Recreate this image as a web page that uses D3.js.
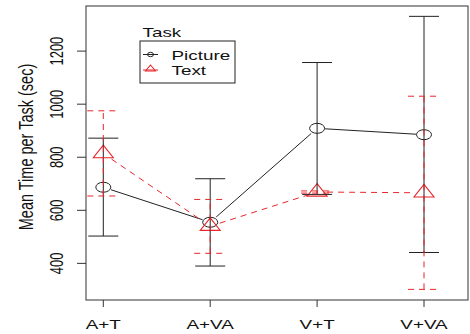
<!DOCTYPE html>
<html>
<head>
<meta charset="utf-8">
<script src="https://cdn.jsdelivr.net/npm/d3@7"></script>
<style>
  body { margin: 0; background: #fff; }
  svg text { font-family: "Liberation Sans", Arial, sans-serif; fill: #111; }
</style>
</head>
<body>
<svg id="chart" width="470" height="334"></svg>
<script>
// values
var tasks = ["A+T", "A+VA", "V+T", "V+VA"];
var pictureMean = [687, 555, 909, 885];
var pictureLow = [503, 390, 660, 441];
var pictureHigh = [872, 719, 1157, 1331];
var textMean = [814, 540, 669, 666];
var textLow = [654, 438, 665, 302];
var textHigh = [975, 641, 673, 1030];
var yTicks = [400, 600, 800, 1000, 1200];
var legendTitle = "Task";
var seriesNames = ["Picture", "Text"];

var RED = "#e8262b";
var SX = 1.45;  // the reference is stretched sideways, so is the text

var svg = d3.select("#chart");
var box = {left: 86, right: 468, top: 6, bottom: 300};

var x = d3.scalePoint().domain(tasks).range([103.3, 424]);
var y = d3.scaleLinear().domain([262, 1370]).range([box.bottom, box.top]);

function label(txt, px, py, size, anchor, rotated) {
    return svg.append("text")
        .attr("transform", "translate(" + px + "," + py + ") scale(" + SX + ",1)" + (rotated ? " rotate(-90)" : ""))
        .attr("text-anchor", anchor)
        .style("font-size", size + "px")
        .text(txt);
}

// plot box
svg.append("rect")
   .attr("x", box.left).attr("y", box.top)
   .attr("width", box.right - box.left).attr("height", box.bottom - box.top)
   .attr("fill", "none").attr("stroke", "#444").attr("stroke-width", 1.1);

// y axis ticks and labels
yTicks.forEach(function (t) {
    svg.append("line")
       .attr("x1", box.left - 9).attr("x2", box.left)
       .attr("y1", y(t)).attr("y2", y(t))
       .attr("stroke", "#333");
    label(t, 62.5, y(t), 13, "middle", true);
});
label("Mean Time per Task (sec)", 33, 147, 14.5, "middle", true);

// x axis ticks and labels
tasks.forEach(function (t) {
    svg.append("line")
       .attr("x1", x(t)).attr("x2", x(t))
       .attr("y1", box.bottom).attr("y2", box.bottom + 7)
       .attr("stroke", "#333");
    label(t, x(t), 329, 13, "middle", false);
});

// line between points, with a gap round each point (type "b")
function gappedLines(means, gap, style) {
    for (var i = 0; i < means.length - 1; i++) {
        var x0 = x(tasks[i]), y0 = y(means[i]);
        var x1 = x(tasks[i + 1]), y1 = y(means[i + 1]);
        var len = Math.hypot(x1 - x0, y1 - y0);
        var ux = (x1 - x0) / len, uy = (y1 - y0) / len;
        var l = svg.append("line")
            .attr("x1", x0 + ux * gap).attr("y1", y0 + uy * gap)
            .attr("x2", x1 - ux * gap).attr("y2", y1 - uy * gap)
            .attr("stroke", style.color).attr("stroke-width", 1);
        if (style.dash) l.attr("stroke-dasharray", style.dash);
    }
}

function errorBars(means, low, high, style) {
    tasks.forEach(function (t, i) {
        var cx = x(t);
        var g = svg.append("g")
            .attr("stroke", style.color).attr("stroke-width", 1).attr("fill", "none");
        if (style.dash) g.attr("stroke-dasharray", style.dash);
        g.append("line").attr("x1", cx).attr("x2", cx).attr("y1", y(low[i])).attr("y2", y(high[i]));
        g.append("line").attr("x1", cx - style.cap).attr("x2", cx + style.cap).attr("y1", y(low[i])).attr("y2", y(low[i]));
        g.append("line").attr("x1", cx - style.cap).attr("x2", cx + style.cap).attr("y1", y(high[i])).attr("y2", y(high[i]));
    });
}

function circleMark(cx, cy, rx, ry, color) {
    svg.append("ellipse")
       .attr("cx", cx).attr("cy", cy).attr("rx", rx).attr("ry", ry)
       .attr("fill", "none").attr("stroke", color).attr("stroke-width", 1);
}

function triangleMark(cx, cy, w, h, color) {
    // centroid at (cx, cy): apex 2/3 above it
    var pts = [[cx, cy - h * 2 / 3], [cx + w / 2, cy + h / 3], [cx - w / 2, cy + h / 3]];
    svg.append("path")
       .attr("d", d3.line()(pts) + "Z")
       .attr("fill", "none").attr("stroke", color).attr("stroke-width", 1.1);
}

// Picture series
gappedLines(pictureMean, 8, {color: "#222"});
tasks.forEach(function (t, i) { circleMark(x(t), y(pictureMean[i]), 7.5, 5, "#222"); });

// Text series
gappedLines(textMean, 10, {color: RED, dash: "6,5"});
tasks.forEach(function (t, i) { triangleMark(x(t), y(textMean[i]), 20, 12.5, RED); });

errorBars(pictureMean, pictureLow, pictureHigh, {color: "#222", cap: 15});
errorBars(textMean, textLow, textHigh, {color: RED, cap: 16, dash: "6,5"});

// legend
label(legendTitle, 142.5, 36.5, 13, "start", false);
svg.append("rect")
   .attr("x", 140).attr("y", 41).attr("width", 95).attr("height", 42)
   .attr("fill", "none").attr("stroke", "#222").attr("stroke-width", 1);
var legendRows = [
    {name: seriesNames[0], color: "#222", ly: 54.5, mark: "circle", by: 60},
    {name: seriesNames[1], color: RED, ly: 70, mark: "triangle", by: 75}
];
legendRows.forEach(function (r) {
    var l = svg.append("line")
        .attr("x1", 143).attr("x2", 158).attr("y1", r.ly).attr("y2", r.ly)
        .attr("stroke", r.color).attr("stroke-width", 1);
    if (r.mark === "circle") circleMark(150.5, r.ly, 3, 2.2, r.color);
    else triangleMark(150.5, r.ly - 1, 10, 6, r.color);
    label(r.name, 171.5, r.by, 13, "start", false);
});
</script>
</body>
</html>
